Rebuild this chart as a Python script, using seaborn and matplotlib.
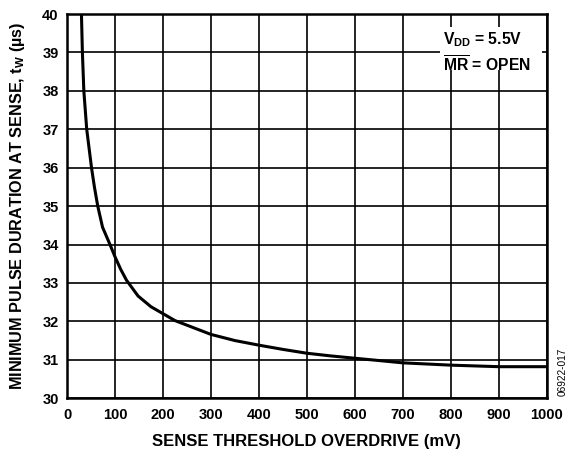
import numpy as np
import pandas as pd
import matplotlib
matplotlib.use("Agg")
import matplotlib.pyplot as plt
from matplotlib.patches import Rectangle
import seaborn as sns

# ==============================
# DATA
# ==============================
overdrive_mv = [30, 32, 35, 41, 44, 51, 57, 64, 74, 89.5, 100, 112, 124, 148,
                175, 200, 225, 250, 300, 350, 400, 450, 500, 550, 600, 650,
                700, 750, 800, 850, 900, 950, 1000]
pulse_us = [40.0, 39.0, 38.0, 37.0, 36.7, 36.0, 35.5, 35.0, 34.45, 34.0, 33.68,
            33.35, 33.07, 32.66, 32.38, 32.2, 32.02, 31.9, 31.66, 31.5, 31.38,
            31.27, 31.17, 31.1, 31.04, 30.98, 30.92, 30.89, 30.86, 30.84,
            30.82, 30.82, 30.82]

x_ticks = list(range(0, 1001, 100))
y_ticks = list(range(30, 41))

df = pd.DataFrame({"overdrive": overdrive_mv, "pulse": pulse_us})

# ==============================
# STYLE
# ==============================
sns.set_style("white")
plt.rcParams["font.family"] = ["Liberation Sans", "DejaVu Sans"]
plt.rcParams["text.color"] = "black"
plt.rcParams["axes.labelcolor"] = "black"
plt.rcParams["xtick.color"] = "black"
plt.rcParams["ytick.color"] = "black"
plt.rcParams["mathtext.fontset"] = "custom"
plt.rcParams["mathtext.rm"] = "Liberation Sans:bold"
plt.rcParams["mathtext.bf"] = "Liberation Sans:bold"
plt.rcParams["mathtext.it"] = "Liberation Sans:bold"

fig = plt.figure(figsize=(5.78, 4.53), dpi=100)
ax = fig.add_axes([0.116, 0.121, 0.830, 0.848])

sns.lineplot(data=df, x="overdrive", y="pulse", ax=ax, color="black",
             linewidth=2.2, zorder=3)

ax.set_xlim(0, 1000)
ax.set_ylim(30, 40)
ax.set_xticks(x_ticks)
ax.set_yticks(y_ticks)
ax.set_xticklabels([str(t) for t in x_ticks], fontweight="bold", fontsize=10.5)
ax.set_yticklabels([str(t) for t in y_ticks], fontweight="bold", fontsize=10.5)
ax.tick_params(axis="x", length=0, pad=7, colors="black")
ax.tick_params(axis="y", length=0, pad=6, colors="black")
ax.grid(True, color="black", linewidth=1.2)
for s in ax.spines.values():
    s.set_color("black")
    s.set_linewidth(1.8)

ax.set_xlabel("SENSE THRESHOLD OVERDRIVE (mV)", fontweight="bold",
              fontsize=12, labelpad=9, color="black")
ax.set_ylabel(r"MINIMUM PULSE DURATION AT SENSE, $\mathregular{t_W}$ (µs)",
              fontweight="bold", fontsize=11.7, labelpad=11, color="black")

# annotation box (white patch hides grid behind the text)
ax.add_patch(Rectangle((0.777, 0.854), 0.214, 0.112, transform=ax.transAxes,
                       facecolor="white", edgecolor="none", zorder=2.5))
ax.text(0.783, 0.958, r"$\mathrm{V_{DD}}$ = 5.5V" + "\n" + r"$\overline{\mathrm{MR}}$ = OPEN",
        transform=ax.transAxes, ha="left", va="top", fontsize=11.3,
        fontweight="bold", linespacing=1.35, zorder=4, color="black")

fig.text(0.974, 0.179, "06922-017", rotation=90, ha="center", va="center",
         fontsize=7.3, color="black")

fig.savefig("out.png", dpi=100)
